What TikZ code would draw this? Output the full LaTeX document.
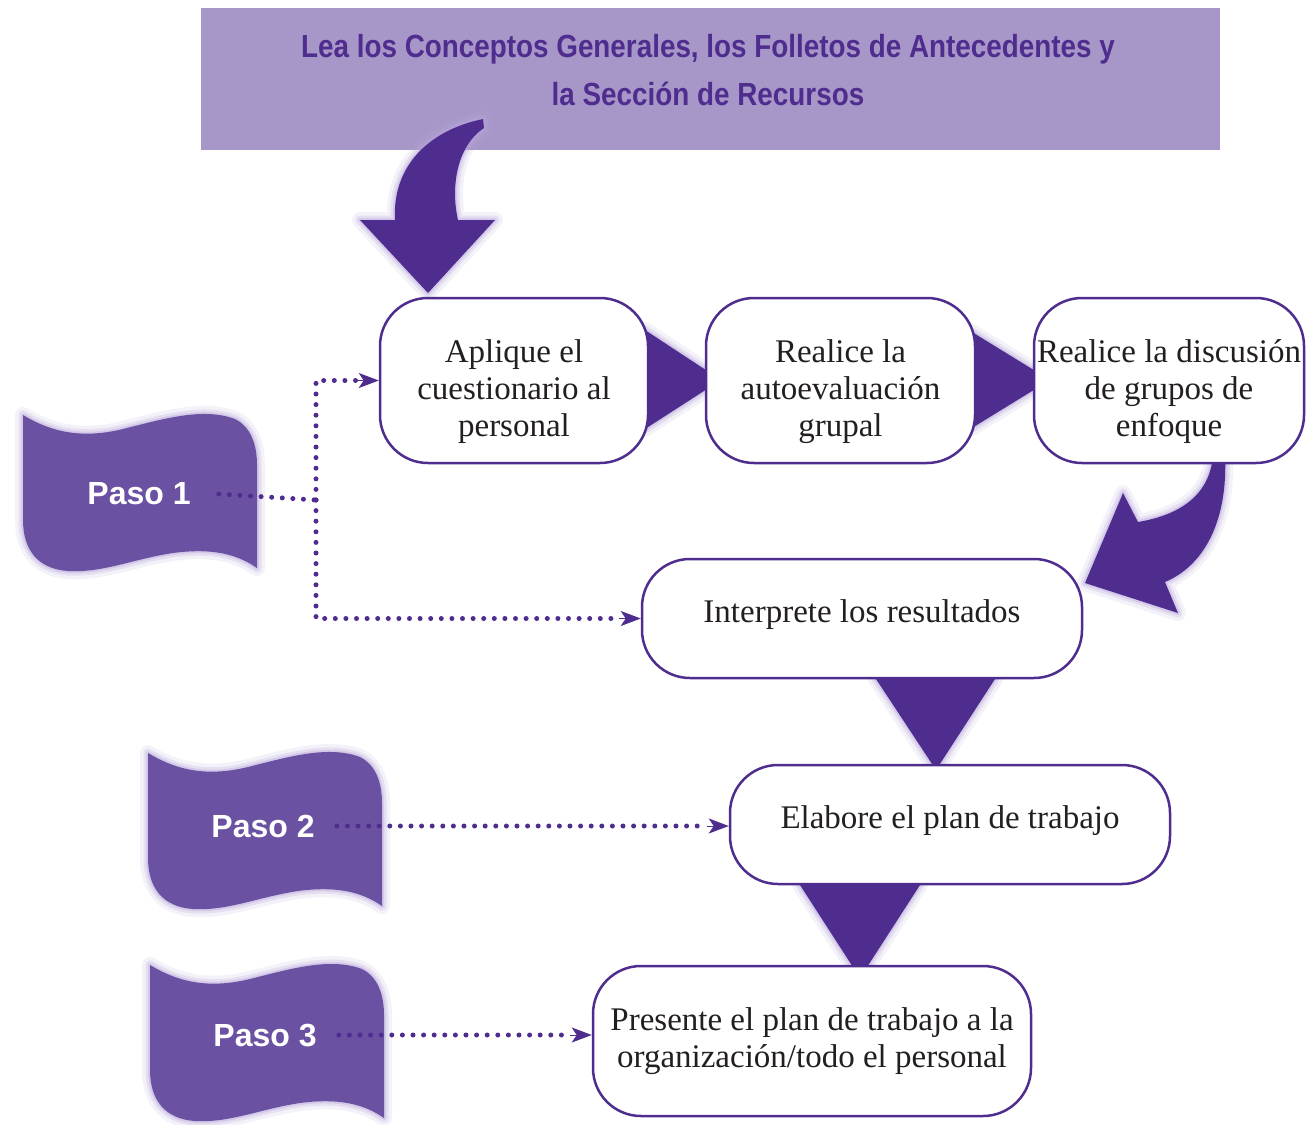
\documentclass[tikz,border=0pt]{standalone}
\usepackage{fontspec}
\setmainfont{Liberation Serif}
\newfontfamily\bannerfont[FakeStretch=0.87]{Liberation Sans}
\newfontfamily\pasofont{Liberation Sans}
\usetikzlibrary{arrows.meta}
\definecolor{deep}{HTML}{4F2D8F}
\definecolor{bannerc}{HTML}{A797C9}
\definecolor{flagc}{HTML}{6B51A1}
\definecolor{glowc}{HTML}{B9A8DD}
\definecolor{txt}{HTML}{231F20}
\newcommand\topstrut{\rule{0pt}{46pt}}
\newcommand\botstrut{\rule[-14pt]{0pt}{0pt}}
\begin{document}
\begin{tikzpicture}[x=1pt,y=-1pt,
  box/.style={draw=deep, line width=2.5pt, fill=white, rounded corners=48pt, align=center, text=txt, font=\fontsize{33}{37}\selectfont, inner sep=0pt},
  glow/.style={preaction={draw=glowc, line width=16pt, opacity=0.15, line join=round},
               preaction={draw=glowc, line width=9pt, opacity=0.25, line join=round},
               preaction={draw=glowc, line width=4pt, opacity=0.4, line join=round}},
  solidtri/.style={fill=deep, glow},
  flagstyle/.style={fill=flagc, glow},
  pasotext/.style={text=white, font=\pasofont\bfseries\fontsize{32}{38}\selectfont, inner sep=2pt},
  bannertext/.style={text=deep, align=center, font=\bannerfont\bfseries\fontsize{32}{48}\selectfont},
  dotline/.style={draw=deep, line width=5pt, line cap=round, dash pattern=on 0pt off 10.6pt},
  tipline/.style={draw=deep, line width=1pt, -{Stealth[length=20pt,width=15pt,inset=5pt]}},
  flagpic/.pic={\fill[flagstyle] (0,0) .. controls (25,15) and (55,25) .. (100,14)
      .. controls (140,4) and (180,-8) .. (212,4) .. controls (228,12) and (234,30) .. (234,50)
      -- (234,153) .. controls (218,142) and (195,132) .. (150,138)
      .. controls (110,144) and (80,158) .. (45,156) .. controls (15,154) and (0,135) .. (0,105) -- cycle;}
]
\useasboundingbox (0,0) rectangle (1314,1124);
\fill[white] (0,0) rectangle (1314,1124);

% banner
\node[fill=bannerc, minimum width=1019pt, minimum height=142pt, inner sep=0pt] (banner) at (710.5,79) {};
\node[bannertext] (bannertxt) at (708,70) {Lea los Conceptos Generales, los Folletos de Antecedentes y\\la Sección de Recursos};

% curved arrow from banner
\fill[solidtri] (395,220) .. controls (392,165) and (430,130) .. (483,119) -- (484,128)
  .. controls (458,145) and (450,185) .. (458,220) -- (495,220) -- (428,293) -- (360,220) -- cycle;

% curved arrow right
\fill[solidtri] (1213,455) .. controls (1210,495) and (1180,515) .. (1138,522) -- (1123,493)
  -- (1085,583) -- (1178,613) -- (1165,582) .. controls (1205,565) and (1228,520) .. (1225,455) -- cycle;

% triangles
\fill[solidtri] (645,330) -- (721,380) -- (645,429) -- cycle;
\fill[solidtri] (972,332) -- (1050,380) -- (972,428) -- cycle;
\fill[solidtri] (876,679) -- (995,679) -- (936,770) -- cycle;
\fill[solidtri] (800,885) -- (920,885) -- (860,978) -- cycle;

% boxes
\node[box, minimum width=268pt, minimum height=165pt] (b1) at (514,380.5) {\topstrut Aplique el\\cuestionario al\\personal};
\node[box, minimum width=269pt, minimum height=165pt] (b2) at (840.5,380.5) {\topstrut Realice la\\autoevaluación\\grupal};
\node[box, minimum width=270pt, minimum height=165pt] (b3) at (1169,380.5) {\topstrut Realice la discusión\\de grupos de\\enfoque};
\node[box, minimum width=440pt, minimum height=119pt] (b4) at (862,618.5) {Interprete los resultados\botstrut};
\node[box, minimum width=440pt, minimum height=119pt] (b5) at (950,824.5) {Elabore el plan de trabajo\botstrut};
\node[box, minimum width=438pt, minimum height=150pt] (b6) at (812,1041) {Presente el plan de trabajo a la\\organización/todo el personal};

% flags
\pic at (23,415) {flagpic};
\pic at (148,753) {flagpic};
\pic at (150,965) {flagpic};
\node[pasotext] (p1) at (139,494) {Paso 1};
\node[pasotext] (p2) at (263,826) {Paso 2};
\node[pasotext] (p3) at (265,1035) {Paso 3};

% dotted connectors
\coordinate (j1) at (316,500);
\coordinate (t1) at ([xshift=-22pt]b1.west);
\coordinate (t4) at ([xshift=-22pt]b4.west);
\draw[dotline] ([xshift=26pt]p1.east) -- (j1);
\draw[dotline] (j1) |- (t1);
\draw[dotline] (j1) |- (t4);
\draw[tipline] (t1) -- (b1.west);
\draw[tipline] (t4) -- (b4.west);
\coordinate (t5) at ([xshift=-22pt]b5.west |- p2.east);
\coordinate (e5) at (b5.west |- p2.east);
\draw[dotline] ([xshift=20pt]p2.east) -- (t5);
\draw[tipline] (t5) -- (e5);
\coordinate (t6) at ([xshift=-22pt]b6.west |- p3.east);
\coordinate (e6) at (b6.west |- p3.east);
\draw[dotline] ([xshift=20pt]p3.east) -- (t6);
\draw[tipline] (t6) -- (e6);
\end{tikzpicture}
\end{document}
